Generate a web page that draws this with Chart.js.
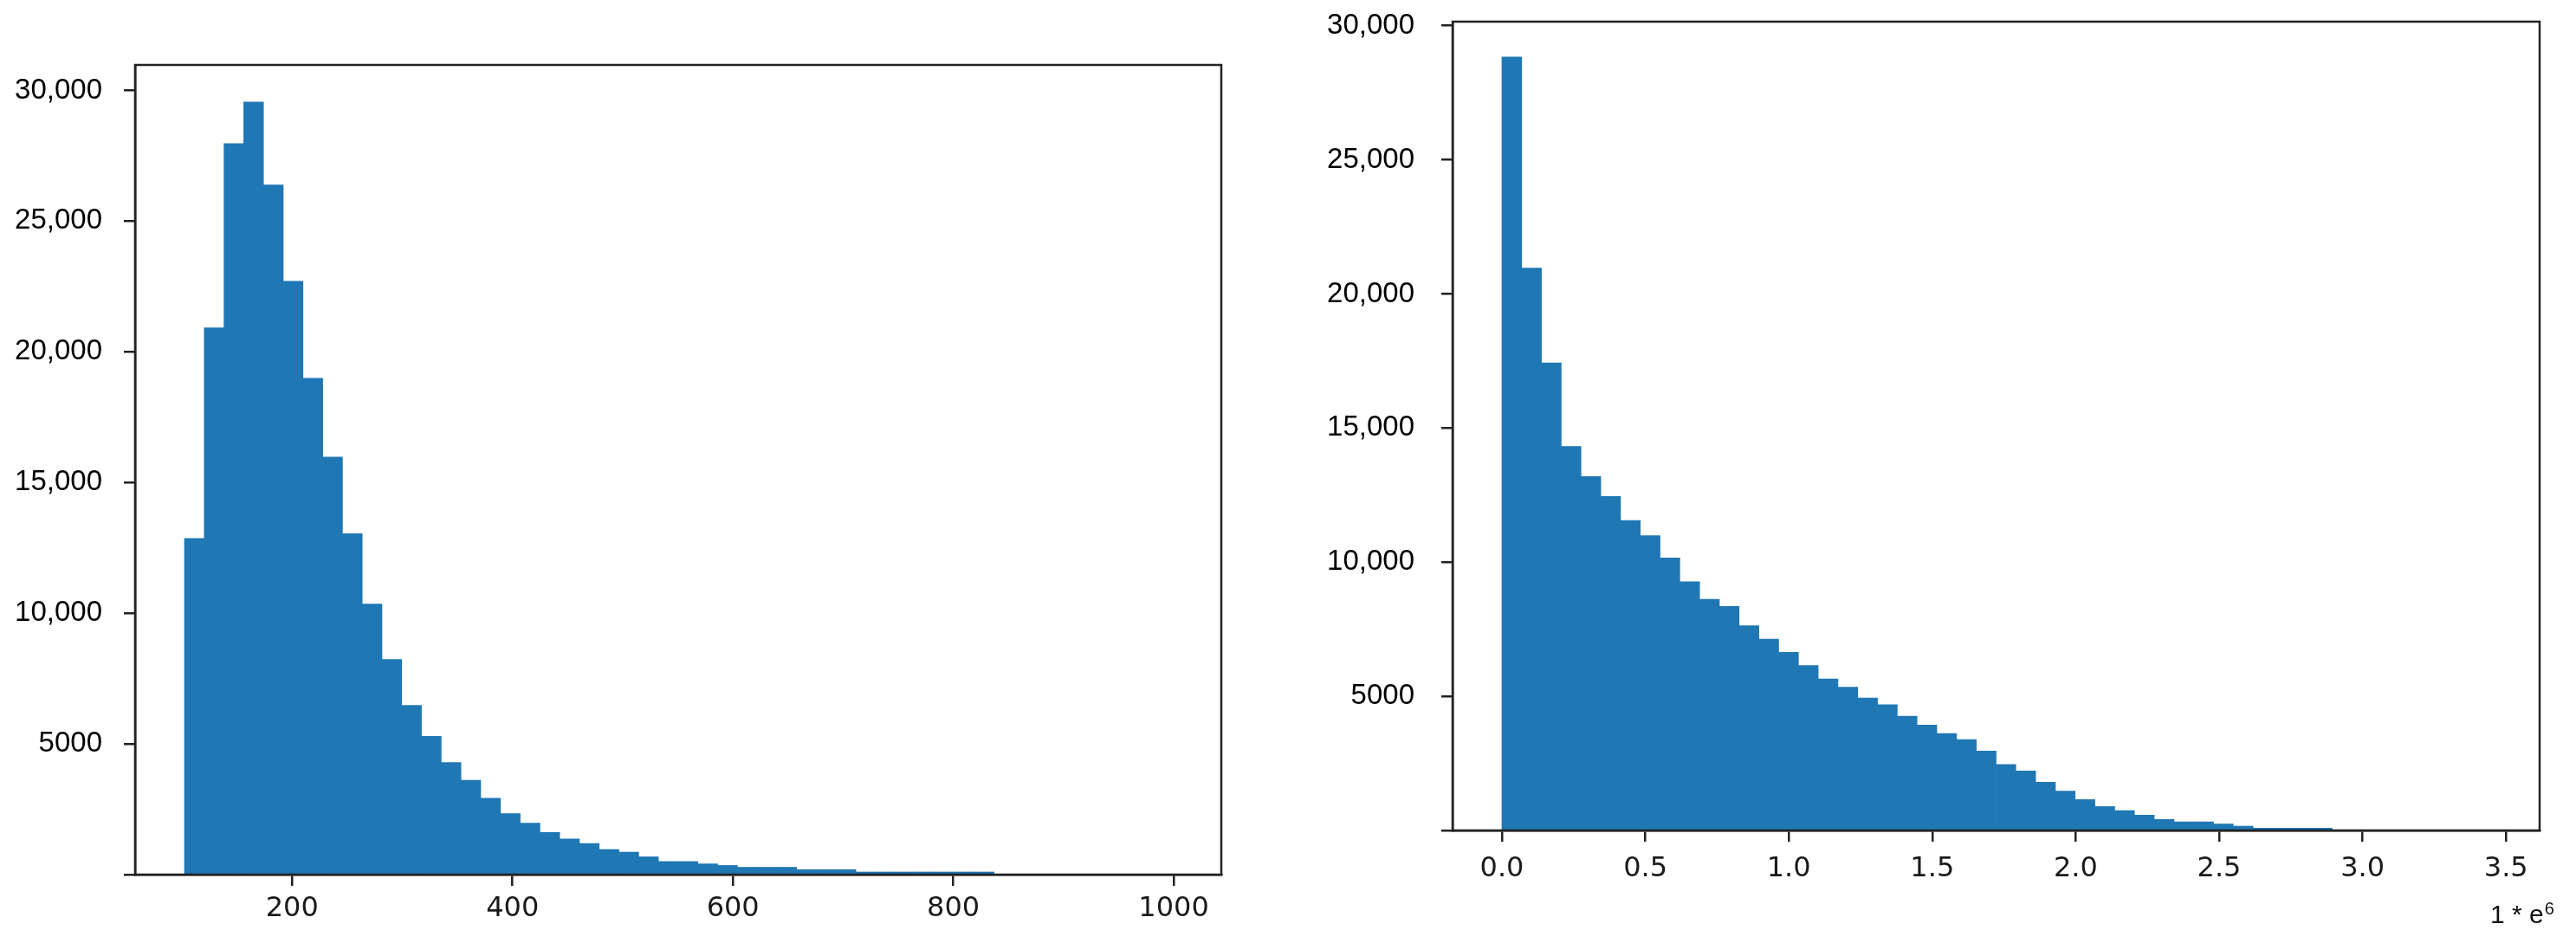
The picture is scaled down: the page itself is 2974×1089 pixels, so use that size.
<!DOCTYPE html>
<html>
<head>
<meta charset="utf-8">
<script src="https://cdn.jsdelivr.net/npm/chart.js@4.4.1/dist/chart.umd.min.js"></script>
<style>
    html, body { margin: 0; padding: 0; background: #fff; }
    #wrap { position: relative; width: 2974px; height: 1089px; }
    canvas { position: absolute; top: 0; }
    #left-chart { left: 0; }
    #right-chart { left: 1487px; }
</style>
</head>
<body>
<div id="wrap">
    <canvas id="left-chart" width="1487" height="1089"></canvas>
    <canvas id="right-chart" width="1487" height="1089"></canvas>
</div>
<script>
// left histogram: 50 bins, counts
const leftCounts = [
    12860, 20920, 27970, 29560, 26380, 22700, 18990, 15970, 13040, 10350,
    8230, 6470, 5290, 4290, 3610, 2920, 2330, 1970, 1610, 1360,
    1190, 960, 860, 680, 500, 500, 410, 350, 280, 280,
    280, 190, 190, 190, 100, 100, 100, 100, 100, 100,
    100, 0, 0, 0, 0, 0, 0, 0, 0, 0
];
const leftBinStart = 102.3;
const leftBinWidth = 17.92;
const leftXTicks = [200, 400, 600, 800, 1000];

// right histogram: 50 bins, x in units of 1e6
const rightCounts = [
    28830, 20960, 17430, 14310, 13190, 12450, 11550, 10990, 10160, 9270,
    8620, 8350, 7630, 7130, 6640, 6150, 5650, 5340, 4940, 4690,
    4260, 3930, 3610, 3390, 2960, 2460, 2220, 1800, 1470, 1150,
    890, 740, 570, 410, 320, 320, 240, 160, 86, 86,
    86, 86, 0, 0, 0, 0, 0, 0, 0, 0
];
const rightBinStart = 0;
const rightBinWidth = 0.0689;
const rightXTicks = [0, 0.5, 1, 1.5, 2, 2.5, 3, 3.5];

const yTicks = [0, 5000, 10000, 15000, 20000, 25000, 30000];

const barColor = '#1f77b4';
const axisColor = '#222222';
const textColor = '#1a1a1a';

function toBins(counts, start, width) {
    return counts.map((c, i) => ({ x: start + width * (i + 0.5), y: c }));
}

function yLabel(value) {
    if (value === 0) return '';
    return value >= 10000 ? value.toLocaleString('en-US') : String(value);
}

const frameBox = {
    id: 'frameBox',
    afterDraw(chart) {
        const { ctx, chartArea: a } = chart;
        ctx.save();
        ctx.strokeStyle = axisColor;
        ctx.lineWidth = 2.5;
        ctx.strokeRect(a.left, a.top, a.right - a.left, a.bottom - a.top);
        ctx.restore();
    }
};

const exponentLabel = {
    id: 'exponentLabel',
    afterDraw(chart) {
        const { ctx, chartArea: a } = chart;
        const x = a.right - 57;
        const y = a.bottom + 107;
        ctx.save();
        ctx.fillStyle = '#111';
        ctx.textBaseline = 'alphabetic';
        ctx.font = '30px "Liberation Sans", Arial, sans-serif';
        ctx.fillText('1 * e', x, y);
        const w = ctx.measureText('1 * e').width;
        ctx.font = '20px "Liberation Sans", Arial, sans-serif';
        ctx.fillText('6', x + w + 1, y - 10);
        ctx.restore();
    }
};

// keep the plot area where the layout padding puts it
function noEdgePadding(s) {
    s.paddingTop = 0;
    s.paddingBottom = 0;
    s.paddingLeft = 0;
    s.paddingRight = 0;
}

function histogramChart(canvasId, cfg) {
    return new Chart(document.getElementById(canvasId), {
        type: 'bar',
        data: {
            datasets: [{
                data: toBins(cfg.counts, cfg.binStart, cfg.binWidth),
                backgroundColor: barColor,
                borderWidth: 0,
                barPercentage: 1,
                categoryPercentage: 1
            }]
        },
        options: {
            responsive: false,
            animation: false,
            devicePixelRatio: 1,
            layout: { padding: cfg.padding },
            plugins: {
                legend: { display: false },
                tooltip: { enabled: false }
            },
            scales: {
                x: {
                    type: 'linear',
                    min: cfg.xMin,
                    max: cfg.xMax,
                    offset: false,
                    grid: {
                        offset: false,
                        drawOnChartArea: false,
                        drawTicks: true,
                        tickLength: 13,
                        color: axisColor,
                        lineWidth: 2.5
                    },
                    border: { display: true, color: axisColor, width: 2.5 },
                    ticks: {
                        padding: cfg.xPad,
                        autoSkip: false,
                        maxRotation: 0,
                        color: textColor,
                        font: { family: 'DejaVu Sans', size: 32 },
                        callback: cfg.xFormat
                    },
                    afterBuildTicks: s => { s.ticks = cfg.xTicks.map(v => ({ value: v })); },
                    afterFit: s => { s.height = cfg.xAxisHeight; noEdgePadding(s); }
                },
                y: {
                    type: 'linear',
                    min: 0,
                    max: cfg.yMax,
                    grid: {
                        drawOnChartArea: false,
                        drawTicks: true,
                        tickLength: 13,
                        color: axisColor,
                        lineWidth: 2.5
                    },
                    border: { display: true, color: axisColor, width: 2.5 },
                    ticks: {
                        padding: cfg.yPad,
                        autoSkip: false,
                        color: '#000',
                        font: { family: 'Liberation Sans', size: 33 },
                        callback: yLabel
                    },
                    afterBuildTicks: s => { s.ticks = yTicks.map(v => ({ value: v })); },
                    afterFit: s => { s.width = cfg.yAxisWidth; noEdgePadding(s); }
                }
            }
        },
        plugins: cfg.plugins
    });
}

histogramChart('left-chart', {
    counts: leftCounts,
    binStart: leftBinStart,
    binWidth: leftBinWidth,
    xTicks: leftXTicks,
    xMin: 57.5,
    xMax: 1043.2,
    yMax: 30975,
    xFormat: v => String(v),
    padding: { left: 0, top: 75, right: 77, bottom: 0 },
    yAxisWidth: 156,
    xAxisHeight: 79,
    xPad: 7,
    yPad: 25,
    plugins: [frameBox]
});

histogramChart('right-chart', {
    counts: rightCounts,
    binStart: rightBinStart,
    binWidth: rightBinWidth,
    xTicks: rightXTicks,
    xMin: -0.172,
    xMax: 3.617,
    yMax: 30150,
    xFormat: v => Number(v).toFixed(1),
    padding: { left: 0, top: 25, right: 42, bottom: 0 },
    yAxisWidth: 190,
    xAxisHeight: 130,
    xPad: 12,
    yPad: 31,
    plugins: [frameBox, exponentLabel]
});
</script>
</body>
</html>
